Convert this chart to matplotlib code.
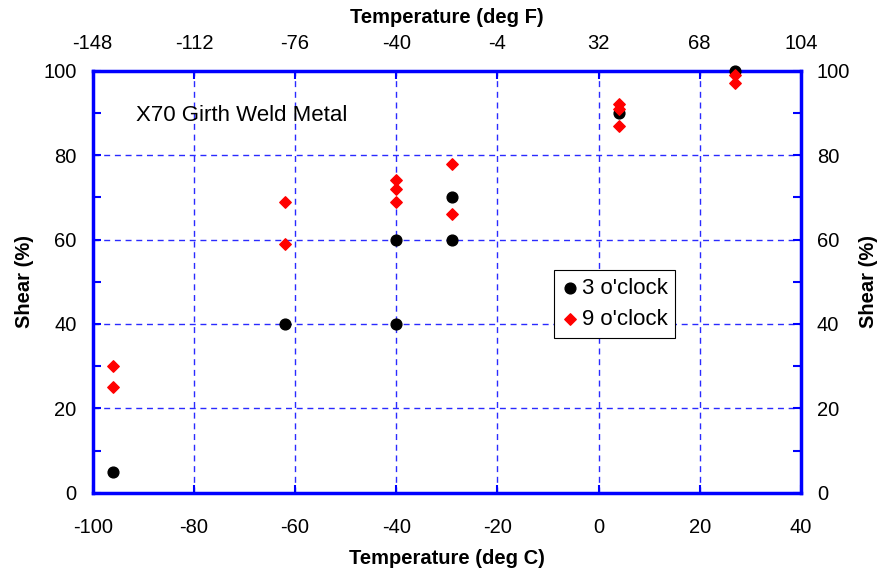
import matplotlib.pyplot as plt
from matplotlib.ticker import MultipleLocator, FixedLocator

plt.rcParams['font.family'] = ['Liberation Sans', 'DejaVu Sans']
plt.rcParams['axes.unicode_minus'] = False
plt.rcParams['lines.scale_dashes'] = False

# Charpy shear area vs test temperature
temp_3 = [-96, -62, -40, -40, -29, -29, 4, 27]
shear_3 = [5, 40, 40, 60, 60, 70, 90, 100]

temp_9 = [-96, -96, -62, -62, -40, -40, -40, -29, -29, 4, 4, 4, 27, 27]
shear_9 = [30, 25, 69, 59, 74, 72, 69, 78, 66, 92, 91, 87, 99, 97]

c_ticks = [-100, -80, -60, -40, -20, 0, 20, 40]
f_labels = ['-148', '-112', '-76', '-40', '-4', '32', '68', '104']

blue = '#0000ff'

fig, ax = plt.subplots(figsize=(8.83, 5.75), dpi=100)
fig.subplots_adjust(left=0.105, right=0.907, bottom=0.143, top=0.877)

ax.set_xlim(-100, 40)
ax.set_ylim(0, 100)
ax.xaxis.set_major_locator(FixedLocator(c_ticks))
ax.yaxis.set_major_locator(MultipleLocator(20))
ax.yaxis.set_minor_locator(MultipleLocator(10))

ax.grid(True, which='major', color='#2a2aff', linestyle=(0, (4.3, 3.4)), linewidth=1.0, zorder=0)

ax.scatter(temp_3, shear_3, marker='o', s=60, color='black', label="3 o'clock", zorder=3, clip_on=False)
ax.scatter(temp_9, shear_9, marker='D', s=34, color='#ff0000', label="9 o'clock", zorder=4, clip_on=False)

for sp in ax.spines.values():
    sp.set_color(blue)
    sp.set_linewidth(2.5)

ax.set_xlabel('Temperature (deg C)', fontsize=14.5, fontweight='bold', labelpad=9)
ax.set_ylabel('Shear (%)', fontsize=14.5, fontweight='bold', labelpad=7)

ax_r = ax.twinx()
ax_r.set_ylim(0, 100)
ax_r.set_yticks([])
ax_r.set_ylabel('Shear (%)', fontsize=14.5, fontweight='bold', labelpad=42)
for sp in ax_r.spines.values():
    sp.set_visible(False)

ax_t = ax.twiny()
ax_t.set_xlim(-100, 40)
ax_t.xaxis.set_major_locator(FixedLocator(c_ticks))
ax_t.set_xticklabels(f_labels)
ax_t.tick_params(axis='x', direction='in', color=blue, width=1.5, length=6, labelsize=14.5, pad=13)
ax_t.set_xlabel('Temperature (deg F)', fontsize=14.5, fontweight='bold', labelpad=8)
for sp in ax_t.spines.values():
    sp.set_visible(False)

# ticks on the main axes (set after twinx, which resets them to the left)
ax.tick_params(axis='both', which='both', direction='in', color=blue, width=1.5,
               labelsize=14.5, top=False, left=True, right=True,
               labelleft=True, labelright=True)
ax.tick_params(axis='y', which='both', length=6, pad=11.5)
ax.tick_params(axis='x', which='major', length=6, pad=18)

ax.text(-91.5, 89.3, 'X70 Girth Weld Metal', fontsize=16, ha='left', va='center', zorder=5)

leg = ax.legend(loc='upper left', bbox_to_anchor=(0.651, 0.527), fontsize=16, frameon=True,
                fancybox=False, edgecolor='black', handletextpad=0.1, borderpad=0.35,
                labelspacing=0.45, handlelength=0.8, borderaxespad=0, framealpha=1)
leg.get_frame().set_linewidth(0.8)

fig.savefig('out.png', dpi=100)
